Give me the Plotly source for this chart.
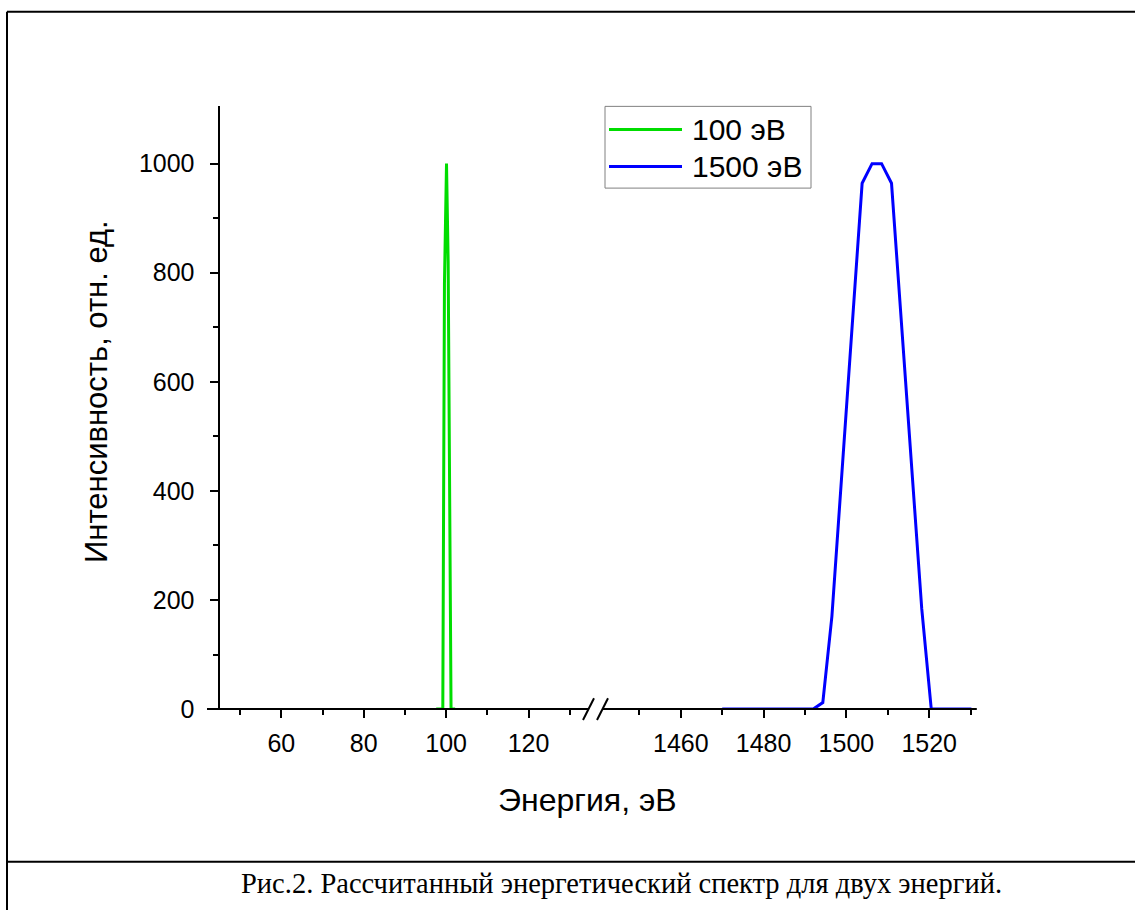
import plotly.graph_objects as go

W, H = 1135, 924

# ---- data ----
green_name = "100 эВ"
green_x = [97.6, 99.2, 99.6, 100.1, 100.5, 101.2, 102.2]
green_y = [0, 0, 780, 1000, 820, 0, 0]

blue_name = "1500 эВ"
blue_x = [1470, 1492.0, 1494.3, 1496.5, 1503.8, 1506.2, 1508.5, 1510.9, 1518.2, 1520.5, 1530.2]
blue_y = [0, 0, 12, 170, 964, 1000, 1000, 964, 184, 0, 0]

x1_ticks = [60, 80, 100, 120]
x1_minor = [50, 70, 90, 110, 130]
x2_ticks = [1460, 1480, 1500, 1520]
x2_minor = [1450, 1470, 1490, 1510, 1530]
y_ticks = [0, 200, 400, 600, 800, 1000]
y_minor = [100, 300, 500, 700, 900]

x_title = "Энергия, эВ"
y_title = "Интенсивность, отн. ед."
caption = "Рис.2. Рассчитанный энергетический спектр для двух энергий."

GREEN = "#00DD00"
BLUE = "#0000FF"
FONT = "Liberation Sans, Arial, sans-serif"


def px(x):
    return x / W


def py(y):
    return 1 - y / H


fig = go.Figure()
fig.add_trace(go.Scatter(x=green_x, y=green_y, mode="lines", name=green_name,
                         line=dict(color=GREEN, width=3), xaxis="x", yaxis="y",
                         showlegend=False))
fig.add_trace(go.Scatter(x=blue_x, y=blue_y, mode="lines", name=blue_name,
                         line=dict(color=BLUE, width=3), xaxis="x2", yaxis="y",
                         showlegend=False))

common_x = dict(showline=False, showgrid=False, zeroline=False, ticks="outside",
                ticklen=8, tickwidth=2, tickcolor="black", ticklabelstandoff=4,
                tickfont=dict(family=FONT, size=25, color="black"), anchor="y")

fig.update_layout(
    width=W, height=H, autosize=False,
    margin=dict(l=0, r=0, t=0, b=0),
    paper_bgcolor="white", plot_bgcolor="rgba(0,0,0,0)",
    xaxis=dict(domain=[px(219.5), px(590.3)], range=[45, 135], tickvals=x1_ticks,
               minor=dict(tickvals=x1_minor, ticks="outside", ticklen=5, tickwidth=2,
                          tickcolor="black"),
               **common_x),
    xaxis2=dict(domain=[px(598), px(976.8)], range=[1440, 1531.5], tickvals=x2_ticks,
                minor=dict(tickvals=x2_minor, ticks="outside", ticklen=5, tickwidth=2,
                           tickcolor="black"),
                **common_x),
    yaxis=dict(domain=[py(720), py(108)], range=[0, 1105], tickvals=y_ticks,
               showline=True, linecolor="black", linewidth=2, showgrid=False,
               zeroline=False, ticks="outside", ticklen=8, tickwidth=2, tickcolor="black",
               ticklabelstandoff=10,
               minor=dict(tickvals=y_minor, ticks="outside", ticklen=5, tickwidth=2,
                          tickcolor="black"),
               tickfont=dict(family=FONT, size=25, color="black"), anchor="x"),
    showlegend=False,
)

shapes = []


def seg(x0, y0, x1, y1, color="black", width=2):
    shapes.append(dict(type="line", xref="paper", yref="paper",
                       x0=px(x0), y0=py(y0), x1=px(x1), y1=py(y1),
                       line=dict(color=color, width=width)))


# x axis line with break
seg(207, 720, 589, 720)
seg(602, 720, 976.8, 720)
seg(583, 731, 594, 709)
seg(597, 731, 608, 709)

# page frame
seg(7, 12, 1135, 12)
seg(7, 12, 7, 924)
seg(7, 875, 1135, 875)

# legend box
shapes.append(dict(type="rect", xref="paper", yref="paper",
                   x0=px(605), y0=py(191), x1=px(811), y1=py(108),
                   line=dict(color="#808080", width=1), fillcolor="white", layer="below"))
seg(609, 131.5, 682, 131.5, GREEN, 3)
seg(609, 169, 682, 169, BLUE, 3)

fig.update_layout(shapes=shapes)

ann = [
    dict(x=px(690), y=py(131), text=green_name, xanchor="left", yanchor="middle",
         font=dict(family=FONT, size=30, color="black")),
    dict(x=px(690), y=py(169), text=blue_name, xanchor="left", yanchor="middle",
         font=dict(family=FONT, size=30, color="black")),
    dict(x=px(587), y=py(812), text=x_title, xanchor="center", yanchor="middle",
         font=dict(family=FONT, size=32, color="black")),
    dict(x=px(97), y=py(398), text=y_title, xanchor="center", yanchor="middle",
         textangle=-90, font=dict(family=FONT, size=31, color="black")),
    dict(x=px(621), y=py(897), text=caption, xanchor="center", yanchor="middle",
         font=dict(family="Liberation Serif, Times New Roman, serif", size=28.5,
                   color="black")),
]
for a in ann:
    a.update(xref="paper", yref="paper", showarrow=False)
fig.update_layout(annotations=ann)

fig.write_html("out.html")
